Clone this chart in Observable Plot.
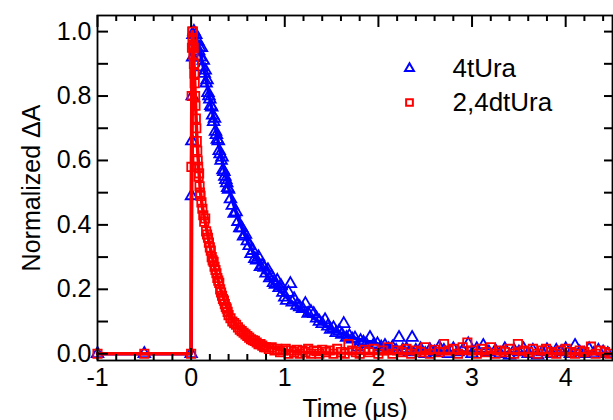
<!DOCTYPE html>
<html><head><meta charset="utf-8">
<script src="https://cdn.jsdelivr.net/npm/d3@7"></script>
<script src="https://cdn.jsdelivr.net/npm/@observablehq/plot@0.6"></script>
<style>html,body{margin:0;padding:0;background:#fff}</style>
</head><body><div id="chart"></div>
<script>
const seriesNames = ["4tUra", "2,4dtUra"];
const seriesColors = ["#0000ff", "#ff0000"];
const xLabel = "Time (\u03bcs)";
const yLabel = "Normalized \u0394A";
const xDomain = [-1, 4.5];
const yDomain = [-0.021, 1.05];
const xTickLabels = [-1, 0, 1, 2, 3, 4];
const xMinorTicks = [-0.8,-0.6,-0.4,-0.2,0.2,0.4,0.6,0.8,1.2,1.4,1.6,1.8,2.2,2.4,2.6,2.8,3.2,3.4,3.6,3.8,4.2,4.4];
const yTickLabels = [0, 0.2, 0.4, 0.6, 0.8, 1.0];
const yMinorTicks = [0,0.1,0.2,0.3,0.4,0.5,0.6,0.7,0.8,0.9,1.0];

// 4tUra measured points [time (us), normalized dA]
const data4tUra = [[-1,0],[-0.5,0],[0,0],[0.004,0.49],[0.008,0.66],[0.012,0.8],[0.016,0.92],[0.02,0.99],[0.03,1.0],[0.04,0.97],[0.05,0.99],[0.06,0.95],[0.07,0.97],[0.08,0.94],[0.09,0.95],[0.10,0.92],[0.11,0.95],[0.12,0.89],[0.13,0.91],[0.14,0.87],[0.15,0.88],[0.16,0.84],[0.17,0.85],[0.18,0.81],[0.19,0.8],[0.20,0.79],[0.21,0.77],[0.22,0.765],[0.23,0.74],[0.24,0.72],[0.25,0.73],[0.26,0.69],[0.27,0.68],[0.28,0.665],[0.29,0.66],[0.30,0.63],[0.31,0.62],[0.32,0.60],[0.33,0.61],[0.34,0.57],[0.35,0.565],[0.36,0.55],[0.37,0.54],[0.38,0.53],[0.39,0.515],[0.40,0.51],[0.42,0.48],[0.44,0.46],[0.46,0.435],[0.48,0.44],[0.50,0.41],[0.52,0.39],[0.54,0.39],[0.56,0.365],[0.58,0.37],[0.60,0.35],[0.62,0.335],[0.64,0.31],[0.66,0.32],[0.68,0.295],[0.70,0.29],[0.72,0.30],[0.74,0.27],[0.76,0.275],[0.78,0.268],[0.80,0.25],[0.82,0.26],[0.84,0.235],[0.86,0.24],[0.88,0.22],[0.90,0.215],[0.92,0.227],[0.94,0.205],[0.96,0.21],[0.98,0.19],[1.00,0.175],[1.02,0.165],[1.04,0.19],[1.06,0.217],[1.08,0.16],[1.10,0.17],[1.13,0.15],[1.16,0.145],[1.19,0.14],[1.22,0.155],[1.25,0.125],[1.28,0.13],[1.31,0.124],[1.34,0.11],[1.37,0.1],[1.40,0.093],[1.43,0.105],[1.46,0.085],[1.49,0.075],[1.52,0.08],[1.55,0.065],[1.58,0.07],[1.61,0.06],[1.63,0.093],[1.66,0.05],[1.69,0.055],[1.72,0.045],[1.75,0.048],[1.78,0.02],[1.81,0.04],[1.84,0.035],[1.87,0.03],[1.91,0.05],[1.95,0.028],[1.99,0.03],[2.03,0.02],[2.07,0.025],[2.11,0.015],[2.15,0.02],[2.19,0.01],[2.22,0.05],[2.26,0.012],[2.30,0.015],[2.33,0.005],[2.36,0.05],[2.40,0.01],[2.45,0.015],[2.5,0.0],[2.55,0.012],[2.6,0.005],[2.65,0.02],[2.7,0.01],[2.75,0.0],[2.8,0.015],[2.85,0.005],[2.9,0.01],[2.96,0.03],[3.0,0.0],[3.05,0.015],[3.12,0.025],[3.18,0.005],[3.25,0.01],[3.3,0.0],[3.35,0.015],[3.4,-0.005],[3.45,0.01],[3.5,0.005],[3.55,0.015],[3.6,0.0],[3.65,0.01],[3.7,-0.005],[3.75,0.005],[3.8,0.012],[3.85,0.0],[3.9,0.01],[3.95,0.005],[4.0,0.015],[4.05,0.0],[4.1,0.025],[4.15,0.005],[4.2,0.0],[4.25,0.015],[4.3,0.0],[4.35,0.01],[4.4,0.005],[4.45,0.0]];

// 2,4dtUra measured points
const data24dtUra = [[-1,0],[-0.5,0],[0,0],[0.003,0.58],[0.006,0.8],[0.009,0.95],[0.012,1.0],[0.015,0.98],[0.018,1.0],[0.021,0.96],[0.024,0.93],[0.027,0.95],[0.03,0.9],[0.034,0.87],[0.038,0.84],[0.042,0.8],[0.046,0.77],[0.05,0.73],[0.055,0.7],[0.06,0.66],[0.065,0.63],[0.07,0.6],[0.075,0.58],[0.08,0.55],[0.085,0.56],[0.09,0.52],[0.095,0.5],[0.10,0.49],[0.11,0.47],[0.12,0.45],[0.13,0.43],[0.14,0.41],[0.15,0.42],[0.16,0.38],[0.17,0.37],[0.18,0.36],[0.19,0.345],[0.20,0.33],[0.21,0.32],[0.22,0.30],[0.23,0.29],[0.24,0.285],[0.25,0.27],[0.26,0.26],[0.27,0.25],[0.28,0.235],[0.29,0.227],[0.30,0.22],[0.31,0.2],[0.32,0.19],[0.33,0.18],[0.34,0.17],[0.35,0.165],[0.36,0.154],[0.37,0.145],[0.38,0.14],[0.39,0.13],[0.40,0.12],[0.42,0.11],[0.44,0.1],[0.46,0.095],[0.48,0.09],[0.50,0.082],[0.52,0.075],[0.54,0.07],[0.56,0.065],[0.58,0.06],[0.60,0.055],[0.62,0.05],[0.64,0.045],[0.66,0.042],[0.68,0.04],[0.70,0.035],[0.72,0.03],[0.74,0.03],[0.76,0.025],[0.78,0.02],[0.80,0.02],[0.83,0.015],[0.86,0.02],[0.89,0.01],[0.92,0.015],[0.95,0.005],[0.98,0.01],[1.01,0.015],[1.04,0.0],[1.07,0.01],[1.10,0.005],[1.13,0.012],[1.16,0.0],[1.19,0.01],[1.22,0.005],[1.25,0.015],[1.28,0.0],[1.31,0.01],[1.34,0.008],[1.37,0.0],[1.40,0.012],[1.44,0.005],[1.48,0.01],[1.52,0.0],[1.56,0.015],[1.60,0.005],[1.64,0.0],[1.68,0.03],[1.72,0.01],[1.76,0.005],[1.80,0.0],[1.85,0.012],[1.9,0.005],[1.95,0.015],[2.0,0.0],[2.05,0.01],[2.1,0.02],[2.15,0.0],[2.2,0.01],[2.25,0.005],[2.3,0.015],[2.35,0.0],[2.4,0.01],[2.45,0.005],[2.5,0.02],[2.55,0.0],[2.6,0.012],[2.65,0.005],[2.7,0.03],[2.75,0.01],[2.8,0.015],[2.85,0.0],[2.9,0.02],[2.95,0.035],[3.0,0.01],[3.05,0.0],[3.1,0.015],[3.15,0.005],[3.2,0.02],[3.25,0.0],[3.3,0.01],[3.35,0.005],[3.4,0.015],[3.45,0.0],[3.49,0.03],[3.55,0.01],[3.6,0.005],[3.65,0.015],[3.7,0.0],[3.75,0.01],[3.79,0.015],[3.85,0.005],[3.9,0.0],[3.95,0.01],[4.0,0.015],[4.05,0.005],[4.1,0.0],[4.15,0.01],[4.2,0.005],[4.27,0.022],[4.32,0.0],[4.37,0.01],[4.42,0.005],[4.47,0.0]];

// fitted curves
const fit4tUra = [[-1,0],[0,0],[0.005,0.6],[0.015,0.95],[0.03,1.0],[0.06,0.97],[0.1,0.93],[0.15,0.865],[0.2,0.79],[0.25,0.72],[0.3,0.64],[0.35,0.575],[0.4,0.515],[0.5,0.42],[0.6,0.35],[0.7,0.293],[0.8,0.248],[0.9,0.21],[1.0,0.18],[1.1,0.155],[1.2,0.132],[1.3,0.112],[1.4,0.093],[1.5,0.077],[1.6,0.064],[1.7,0.053],[1.8,0.044],[1.9,0.036],[2.0,0.03],[2.2,0.02],[2.4,0.013],[2.7,0.008],[3.0,0.005],[3.5,0.002],[4.0,0.001],[4.5,0]];
const fit24dtUra = [[-1,0],[0,0],[0.005,0.7],[0.012,1.0],[0.02,0.98],[0.04,0.83],[0.06,0.68],[0.08,0.58],[0.1,0.5],[0.12,0.455],[0.15,0.41],[0.2,0.335],[0.25,0.27],[0.3,0.215],[0.35,0.168],[0.4,0.13],[0.45,0.102],[0.5,0.082],[0.6,0.053],[0.7,0.035],[0.8,0.023],[0.9,0.015],[1.0,0.01],[1.2,0.005],[1.5,0.002],[2.0,0.001],[4.5,0]];

const font = "'Liberation Sans', Arial, sans-serif";
const fs = 25;
const W = 613, H = 420, mL = 97, mR = 1, mT = 15, mB = 60;
const frameW = W - mL - mR, frameH = H - mT - mB;
const xPerPx = (xDomain[1] - xDomain[0]) / frameW;
const yPerPx = (yDomain[1] - yDomain[0]) / frameH;
const tickStyle = {stroke: "#000", strokeWidth: 2};

const chart = Plot.plot({
  width: W,
  height: H,
  marginLeft: mL,
  marginRight: mR,
  marginTop: mT,
  marginBottom: mB,
  style: {fontFamily: font, fontSize: fs + "px", background: "#fff", color: "#000"},
  x: {domain: xDomain, ticks: xTickLabels, tickSize: 0, tickPadding: 8, tickFormat: d => String(d), label: null},
  y: {domain: yDomain, ticks: yTickLabels, tickSize: 0, tickPadding: 6, tickFormat: d3.format(".1f"), label: null},
  marks: [
    Plot.dot(data4tUra, {x: d => d[0], y: d => d[1], symbol: "triangle", r: 4.3, stroke: seriesColors[0], strokeWidth: 1.8, fill: "none"}),
    Plot.line(fit4tUra, {x: d => d[0], y: d => d[1], stroke: seriesColors[0], strokeWidth: 3.5}),
    Plot.dot(data24dtUra, {x: d => d[0], y: d => d[1], symbol: "square", r: 4.7, stroke: seriesColors[1], strokeWidth: 1.8, fill: "none"}),
    Plot.line(fit24dtUra, {x: d => d[0], y: d => d[1], stroke: seriesColors[1], strokeWidth: 3.5}),
    Plot.frame({stroke: "#000", strokeWidth: 1.8}),
    Plot.ruleX(xMinorTicks, {x: d => d, y1: yDomain[0], y2: yDomain[0] + 6 * yPerPx, ...tickStyle}),
    Plot.ruleX(xMinorTicks, {x: d => d, y1: yDomain[1], y2: yDomain[1] - 6 * yPerPx, ...tickStyle}),
    Plot.ruleX(xTickLabels, {x: d => d, y1: yDomain[0], y2: yDomain[0] + 12 * yPerPx, ...tickStyle}),
    Plot.ruleX(xTickLabels, {x: d => d, y1: yDomain[1], y2: yDomain[1] - 12 * yPerPx, ...tickStyle}),
    Plot.ruleY(yMinorTicks, {y: d => d, x1: xDomain[0], x2: xDomain[0] + 11 * xPerPx, ...tickStyle}),
    Plot.ruleY(yMinorTicks, {y: d => d, x1: xDomain[1], x2: xDomain[1] - 8 * xPerPx, ...tickStyle}),
    Plot.text([xLabel], {frameAnchor: "bottom", dy: 48, lineAnchor: "middle", textAnchor: "middle", text: d => d, fontSize: fs, fill: "#000"}),
    Plot.text([yLabel], {frameAnchor: "left", dx: -66, rotate: -90, textAnchor: "middle", lineAnchor: "middle", text: d => d, fontSize: fs, fill: "#000"}),
    Plot.dot([seriesNames[0]], {frameAnchor: "top-left", dx: 312, dy: 53, symbol: "triangle", r: 3.3, stroke: seriesColors[0], strokeWidth: 2, fill: "none"}),
    Plot.dot([seriesNames[1]], {frameAnchor: "top-left", dx: 312, dy: 87, symbol: "square", r: 3.8, stroke: seriesColors[1], strokeWidth: 2, fill: "none"}),
    Plot.text([seriesNames[0]], {frameAnchor: "top-left", dx: 355, dy: 53, text: d => d, textAnchor: "start", lineAnchor: "middle", fontSize: 26, fill: "#000"}),
    Plot.text([seriesNames[1]], {frameAnchor: "top-left", dx: 355, dy: 87, text: d => d, textAnchor: "start", lineAnchor: "middle", fontSize: 26, fill: "#000"})
  ]
});
document.getElementById("chart").appendChild(chart);
</script>
</body></html>
